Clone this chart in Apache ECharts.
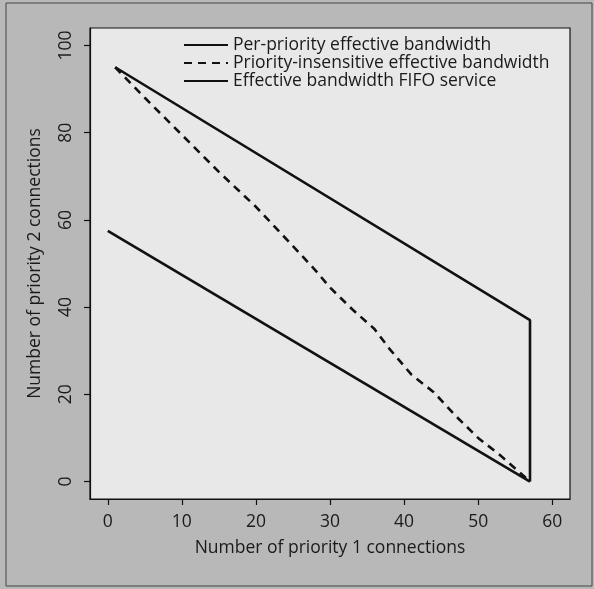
<!DOCTYPE html>
<html>
<head>
<meta charset="utf-8">
<script src="https://cdn.jsdelivr.net/npm/echarts@6/dist/echarts.min.js"></script>
<style>
html,body{margin:0;padding:0;background:#b8b8b8;}
#chart{width:594px;height:589px;}
</style>
</head>
<body>
<div id="chart"></div>
<script>
var xTicks = [0, 10, 20, 30, 40, 50, 60];
var yTicks = [0, 20, 40, 60, 80, 100];
var seriesNames = [
  'Per-priority effective bandwidth',
  'Priority-insensitive effective bandwidth',
  'Effective bandwidth FIFO service'
];
var perPriority = [[1, 95], [57, 37], [57, 0]];
var insensitive = [[1, 95], [5, 88], [10, 79.5], [15, 71], [20, 63], [25, 54], [28, 48.5],
  [30, 44.5], [33, 39.5], [36, 35], [38, 30.5], [41, 24.5], [44, 20.5], [47, 15],
  [50, 10], [53, 6], [57, 0]];
var fifo = [[0, 57.5], [57, 0]];
var xName = 'Number of priority 1 connections';
var yName = 'Number of priority 2 connections';

var font = 'Open Sans, Noto Sans, DejaVu Sans, sans-serif';
var chart = echarts.init(document.getElementById('chart'), null, {renderer: 'canvas'});
function mk(name, data, type) {
  return {
    name: name, type: 'line', data: data, symbol: 'none', showSymbol: false,
    lineStyle: {color: '#111', width: 2.6, type: type},
    itemStyle: {color: '#111'},
    animation: false
  };
}
chart.setOption({
  backgroundColor: '#b8b8b8',
  animation: false,
  graphic: [{
    type: 'rect', shape: {x: 6, y: 3, width: 586, height: 583},
    style: {fill: 'none', stroke: '#444', lineWidth: 1}, z: -1
  }],
  grid: {left: 90, right: 24, top: 28, bottom: 90, show: true,
    backgroundColor: '#e8e8e8', borderColor: '#111', borderWidth: 1.2},
  legend: {
    orient: 'vertical', left: 178, top: 31, itemWidth: 44, itemHeight: 16, itemGap: 0,
    itemStyle: {opacity: 0},
    textStyle: {fontFamily: font, fontSize: 17.5, color: '#1a1a1a'},
    data: seriesNames
  },
  xAxis: {
    type: 'value', min: -2.4, max: 62.4,
    name: xName, nameLocation: 'middle', nameGap: 40,
    nameTextStyle: {fontFamily: font, fontSize: 17.5, color: '#1a1a1a'},
    axisLine: {show: true, onZero: false, lineStyle: {color: '#111', width: 1.2}},
    splitLine: {show: false},
    axisTick: {show: true, inside: false, length: 6, customValues: xTicks,
      lineStyle: {color: '#111', width: 1.2}},
    axisLabel: {customValues: xTicks, fontFamily: font, fontSize: 17.5, color: '#1a1a1a', margin: 14}
  },
  yAxis: {
    type: 'value', min: -4, max: 104,
    name: yName, nameLocation: 'middle', nameGap: 46, nameRotate: 90,
    nameTextStyle: {fontFamily: font, fontSize: 17.5, color: '#1a1a1a'},
    axisLine: {show: true, onZero: false, lineStyle: {color: '#111', width: 1.2}},
    splitLine: {show: false},
    axisTick: {show: true, inside: false, length: 6, customValues: yTicks,
      lineStyle: {color: '#111', width: 1.2}},
    axisLabel: {customValues: yTicks, rotate: 90, fontFamily: font, fontSize: 17.5, color: '#1a1a1a', margin: 15}
  },
  series: [
    mk(seriesNames[0], perPriority, 'solid'),
    mk(seriesNames[1], insensitive, [8, 6]),
    mk(seriesNames[2], fifo, 'solid')
  ]
});
</script>
</body>
</html>
